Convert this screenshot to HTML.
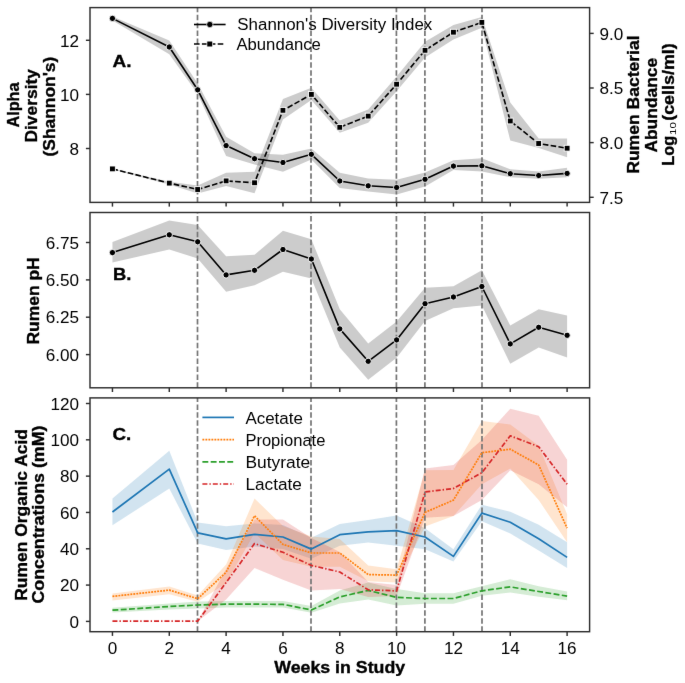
<!DOCTYPE html>
<html><head><meta charset="utf-8"><style>
html,body{margin:0;padding:0;background:#fff;width:685px;height:683px;overflow:hidden}
svg{display:block;font-family:"Liberation Sans",sans-serif}
</style></head><body>
<svg width="685" height="683" viewBox="0 0 685 683">
<defs><filter id="bl" x="0" y="0" width="685" height="683" filterUnits="userSpaceOnUse" color-interpolation-filters="sRGB"><feConvolveMatrix order="3" kernelMatrix="0.00276 0.04704 0.00276 0.04704 0.80077 0.04704 0.00276 0.04704 0.00276" edgeMode="duplicate"/></filter></defs>
<rect width="685" height="683" fill="#fff"/>
<g filter="url(#bl)">
<polygon points="112.45,16.6 169.28,40.6 197.7,83.6 226.11,136.8 254.53,153.2 282.95,154.7 311.36,148.5 339.78,172.7 368.19,178.4 396.61,179.8 425.03,172.5 453.44,160.2 481.86,158.2 510.27,169.3 538.69,171.4 567.11,167.8 567.11,177.2 538.69,178.7 510.27,177.2 481.86,171.4 453.44,169.9 425.03,186.5 396.61,194.4 368.19,191.5 339.78,188.1 311.36,159.4 282.95,171.7 254.53,164.5 226.11,155.9 197.7,94 169.28,54.2 112.45,20.6" fill="#000" fill-opacity="0.2"/><polygon points="112.45,168.4 169.28,181.8 197.7,185.6 226.11,172.7 254.53,171.7 282.95,98.9 311.36,87.7 339.78,120.5 368.19,109.6 396.61,76.6 425.03,41.8 453.44,24.9 481.86,17 510.27,102.5 538.69,138.5 567.11,138.5 567.11,157.3 538.69,147.9 510.27,140.6 481.86,27.8 453.44,39.5 425.03,57.6 396.61,91.2 368.19,122.8 339.78,132.7 311.36,100 282.95,119.4 254.53,193.2 226.11,186 197.7,193.6 169.28,184.4 112.45,169.4" fill="#000" fill-opacity="0.2"/><line x1="197.5" y1="202.4" x2="197.5" y2="7.6" stroke="#767676" stroke-width="1.7" stroke-dasharray="5.5 2.42"/><line x1="311.0" y1="202.4" x2="311.0" y2="7.6" stroke="#767676" stroke-width="1.7" stroke-dasharray="5.5 2.42"/><line x1="396.4" y1="202.4" x2="396.4" y2="7.6" stroke="#767676" stroke-width="1.7" stroke-dasharray="5.5 2.42"/><line x1="424.9" y1="202.4" x2="424.9" y2="7.6" stroke="#767676" stroke-width="1.7" stroke-dasharray="5.5 2.42"/><line x1="482.0" y1="202.4" x2="482.0" y2="7.6" stroke="#767676" stroke-width="1.7" stroke-dasharray="5.5 2.42"/><polyline points="112.45,18.4 169.28,47 197.7,89.8 226.11,145.6 254.53,158.7 282.95,162.5 311.36,154.3 339.78,181 368.19,185.8 396.61,187.5 425.03,179.3 453.44,166.1 481.86,165.8 510.27,173.7 538.69,175.5 567.11,173.4" fill="none" stroke="#000" stroke-width="1.6" stroke-linejoin="round" stroke-linecap="butt"/><circle cx="112.45" cy="18.4" r="3.15" fill="#000" stroke="#fff" stroke-width="0.9"/><circle cx="169.28" cy="47" r="3.15" fill="#000" stroke="#fff" stroke-width="0.9"/><circle cx="197.7" cy="89.8" r="3.15" fill="#000" stroke="#fff" stroke-width="0.9"/><circle cx="226.11" cy="145.6" r="3.15" fill="#000" stroke="#fff" stroke-width="0.9"/><circle cx="254.53" cy="158.7" r="3.15" fill="#000" stroke="#fff" stroke-width="0.9"/><circle cx="282.95" cy="162.5" r="3.15" fill="#000" stroke="#fff" stroke-width="0.9"/><circle cx="311.36" cy="154.3" r="3.15" fill="#000" stroke="#fff" stroke-width="0.9"/><circle cx="339.78" cy="181" r="3.15" fill="#000" stroke="#fff" stroke-width="0.9"/><circle cx="368.19" cy="185.8" r="3.15" fill="#000" stroke="#fff" stroke-width="0.9"/><circle cx="396.61" cy="187.5" r="3.15" fill="#000" stroke="#fff" stroke-width="0.9"/><circle cx="425.03" cy="179.3" r="3.15" fill="#000" stroke="#fff" stroke-width="0.9"/><circle cx="453.44" cy="166.1" r="3.15" fill="#000" stroke="#fff" stroke-width="0.9"/><circle cx="481.86" cy="165.8" r="3.15" fill="#000" stroke="#fff" stroke-width="0.9"/><circle cx="510.27" cy="173.7" r="3.15" fill="#000" stroke="#fff" stroke-width="0.9"/><circle cx="538.69" cy="175.5" r="3.15" fill="#000" stroke="#fff" stroke-width="0.9"/><circle cx="567.11" cy="173.4" r="3.15" fill="#000" stroke="#fff" stroke-width="0.9"/><polyline points="112.45,168.9 169.28,183.1 197.7,189.5 226.11,180.9 254.53,182.8 282.95,110.3 311.36,94.4 339.78,127.3 368.19,116.1 396.61,84.2 425.03,50.3 453.44,32.2 481.86,22.4 510.27,121 538.69,143.5 567.11,148.2" fill="none" stroke="#000" stroke-width="1.6" stroke-linejoin="round" stroke-linecap="butt" stroke-dasharray="5.6 2.3"/><rect x="109.55" y="166" width="5.8" height="5.8" fill="#000" stroke="#fff" stroke-width="0.9"/><rect x="166.38" y="180.2" width="5.8" height="5.8" fill="#000" stroke="#fff" stroke-width="0.9"/><rect x="194.8" y="186.6" width="5.8" height="5.8" fill="#000" stroke="#fff" stroke-width="0.9"/><rect x="223.21" y="178" width="5.8" height="5.8" fill="#000" stroke="#fff" stroke-width="0.9"/><rect x="251.63" y="179.9" width="5.8" height="5.8" fill="#000" stroke="#fff" stroke-width="0.9"/><rect x="280.05" y="107.4" width="5.8" height="5.8" fill="#000" stroke="#fff" stroke-width="0.9"/><rect x="308.46" y="91.5" width="5.8" height="5.8" fill="#000" stroke="#fff" stroke-width="0.9"/><rect x="336.88" y="124.4" width="5.8" height="5.8" fill="#000" stroke="#fff" stroke-width="0.9"/><rect x="365.29" y="113.2" width="5.8" height="5.8" fill="#000" stroke="#fff" stroke-width="0.9"/><rect x="393.71" y="81.3" width="5.8" height="5.8" fill="#000" stroke="#fff" stroke-width="0.9"/><rect x="422.13" y="47.4" width="5.8" height="5.8" fill="#000" stroke="#fff" stroke-width="0.9"/><rect x="450.54" y="29.3" width="5.8" height="5.8" fill="#000" stroke="#fff" stroke-width="0.9"/><rect x="478.96" y="19.5" width="5.8" height="5.8" fill="#000" stroke="#fff" stroke-width="0.9"/><rect x="507.37" y="118.1" width="5.8" height="5.8" fill="#000" stroke="#fff" stroke-width="0.9"/><rect x="535.79" y="140.6" width="5.8" height="5.8" fill="#000" stroke="#fff" stroke-width="0.9"/><rect x="564.21" y="145.3" width="5.8" height="5.8" fill="#000" stroke="#fff" stroke-width="0.9"/><rect x="90.0" y="7.6" width="499.6" height="194.8" fill="none" stroke="#2e2e2e" stroke-width="1.45"/><line x1="112.45" y1="202.4" x2="112.45" y2="206.6" stroke="#2e2e2e" stroke-width="1.45"/><line x1="169.28" y1="202.4" x2="169.28" y2="206.6" stroke="#2e2e2e" stroke-width="1.45"/><line x1="226.11" y1="202.4" x2="226.11" y2="206.6" stroke="#2e2e2e" stroke-width="1.45"/><line x1="282.95" y1="202.4" x2="282.95" y2="206.6" stroke="#2e2e2e" stroke-width="1.45"/><line x1="339.78" y1="202.4" x2="339.78" y2="206.6" stroke="#2e2e2e" stroke-width="1.45"/><line x1="396.61" y1="202.4" x2="396.61" y2="206.6" stroke="#2e2e2e" stroke-width="1.45"/><line x1="453.44" y1="202.4" x2="453.44" y2="206.6" stroke="#2e2e2e" stroke-width="1.45"/><line x1="510.27" y1="202.4" x2="510.27" y2="206.6" stroke="#2e2e2e" stroke-width="1.45"/><line x1="567.11" y1="202.4" x2="567.11" y2="206.6" stroke="#2e2e2e" stroke-width="1.45"/><line x1="85.9" y1="40.3" x2="90.0" y2="40.3" stroke="#2e2e2e" stroke-width="1.45"/><line x1="85.9" y1="94.4" x2="90.0" y2="94.4" stroke="#2e2e2e" stroke-width="1.45"/><line x1="85.9" y1="148.5" x2="90.0" y2="148.5" stroke="#2e2e2e" stroke-width="1.45"/><line x1="589.6" y1="33.4" x2="593.7" y2="33.4" stroke="#2e2e2e" stroke-width="1.45"/><line x1="589.6" y1="88" x2="593.7" y2="88" stroke="#2e2e2e" stroke-width="1.45"/><line x1="589.6" y1="142.6" x2="593.7" y2="142.6" stroke="#2e2e2e" stroke-width="1.45"/><line x1="589.6" y1="197.3" x2="593.7" y2="197.3" stroke="#2e2e2e" stroke-width="1.45"/><polygon points="112.45,242.1 169.28,220.5 197.7,224.9 226.11,256.2 254.53,254.7 282.95,230.8 311.36,239.3 339.78,309.2 368.19,343.6 396.61,321.5 425.03,287.8 453.44,286.2 481.86,270.3 510.27,325.5 538.69,309.2 567.11,315.4 567.11,357.4 538.69,347.5 510.27,363.8 481.86,305.6 453.44,308.3 425.03,320.9 396.61,357.7 368.19,379.7 339.78,347.5 311.36,278.6 282.95,271.8 254.53,285.3 226.11,291.8 197.7,258.6 169.28,249.4 112.45,262.5" fill="#000" fill-opacity="0.2"/><line x1="197.5" y1="387.8" x2="197.5" y2="212.5" stroke="#767676" stroke-width="1.7" stroke-dasharray="5.5 2.42"/><line x1="311.0" y1="387.8" x2="311.0" y2="212.5" stroke="#767676" stroke-width="1.7" stroke-dasharray="5.5 2.42"/><line x1="396.4" y1="387.8" x2="396.4" y2="212.5" stroke="#767676" stroke-width="1.7" stroke-dasharray="5.5 2.42"/><line x1="424.9" y1="387.8" x2="424.9" y2="212.5" stroke="#767676" stroke-width="1.7" stroke-dasharray="5.5 2.42"/><line x1="482.0" y1="387.8" x2="482.0" y2="212.5" stroke="#767676" stroke-width="1.7" stroke-dasharray="5.5 2.42"/><polyline points="112.45,252.6 169.28,234.8 197.7,241.8 226.11,274.9 254.53,270.3 282.95,249.5 311.36,259 339.78,328.9 368.19,361.3 396.61,339.9 425.03,303.7 453.44,297 481.86,286.5 510.27,343.9 538.69,327.3 567.11,335.3" fill="none" stroke="#000" stroke-width="1.6" stroke-linejoin="round" stroke-linecap="butt"/><circle cx="112.45" cy="252.6" r="3.15" fill="#000" stroke="#fff" stroke-width="0.9"/><circle cx="169.28" cy="234.8" r="3.15" fill="#000" stroke="#fff" stroke-width="0.9"/><circle cx="197.7" cy="241.8" r="3.15" fill="#000" stroke="#fff" stroke-width="0.9"/><circle cx="226.11" cy="274.9" r="3.15" fill="#000" stroke="#fff" stroke-width="0.9"/><circle cx="254.53" cy="270.3" r="3.15" fill="#000" stroke="#fff" stroke-width="0.9"/><circle cx="282.95" cy="249.5" r="3.15" fill="#000" stroke="#fff" stroke-width="0.9"/><circle cx="311.36" cy="259" r="3.15" fill="#000" stroke="#fff" stroke-width="0.9"/><circle cx="339.78" cy="328.9" r="3.15" fill="#000" stroke="#fff" stroke-width="0.9"/><circle cx="368.19" cy="361.3" r="3.15" fill="#000" stroke="#fff" stroke-width="0.9"/><circle cx="396.61" cy="339.9" r="3.15" fill="#000" stroke="#fff" stroke-width="0.9"/><circle cx="425.03" cy="303.7" r="3.15" fill="#000" stroke="#fff" stroke-width="0.9"/><circle cx="453.44" cy="297" r="3.15" fill="#000" stroke="#fff" stroke-width="0.9"/><circle cx="481.86" cy="286.5" r="3.15" fill="#000" stroke="#fff" stroke-width="0.9"/><circle cx="510.27" cy="343.9" r="3.15" fill="#000" stroke="#fff" stroke-width="0.9"/><circle cx="538.69" cy="327.3" r="3.15" fill="#000" stroke="#fff" stroke-width="0.9"/><circle cx="567.11" cy="335.3" r="3.15" fill="#000" stroke="#fff" stroke-width="0.9"/><rect x="90.0" y="212.5" width="499.6" height="175.3" fill="none" stroke="#2e2e2e" stroke-width="1.45"/><line x1="112.45" y1="387.8" x2="112.45" y2="392" stroke="#2e2e2e" stroke-width="1.45"/><line x1="169.28" y1="387.8" x2="169.28" y2="392" stroke="#2e2e2e" stroke-width="1.45"/><line x1="226.11" y1="387.8" x2="226.11" y2="392" stroke="#2e2e2e" stroke-width="1.45"/><line x1="282.95" y1="387.8" x2="282.95" y2="392" stroke="#2e2e2e" stroke-width="1.45"/><line x1="339.78" y1="387.8" x2="339.78" y2="392" stroke="#2e2e2e" stroke-width="1.45"/><line x1="396.61" y1="387.8" x2="396.61" y2="392" stroke="#2e2e2e" stroke-width="1.45"/><line x1="453.44" y1="387.8" x2="453.44" y2="392" stroke="#2e2e2e" stroke-width="1.45"/><line x1="510.27" y1="387.8" x2="510.27" y2="392" stroke="#2e2e2e" stroke-width="1.45"/><line x1="567.11" y1="387.8" x2="567.11" y2="392" stroke="#2e2e2e" stroke-width="1.45"/><line x1="85.9" y1="242.5" x2="90.0" y2="242.5" stroke="#2e2e2e" stroke-width="1.45"/><line x1="85.9" y1="279.9" x2="90.0" y2="279.9" stroke="#2e2e2e" stroke-width="1.45"/><line x1="85.9" y1="317.2" x2="90.0" y2="317.2" stroke="#2e2e2e" stroke-width="1.45"/><line x1="85.9" y1="354.6" x2="90.0" y2="354.6" stroke="#2e2e2e" stroke-width="1.45"/><polygon points="112.45,498.4 169.28,450.8 197.7,522.6 226.11,526.3 254.53,523.5 282.95,525 311.36,537.8 339.78,523.9 368.19,520 396.61,515.5 425.03,528.2 453.44,549.3 481.86,504.7 510.27,511.7 538.69,524.7 567.11,542.3 567.11,568 538.69,550.4 510.27,533.5 481.86,521.2 453.44,561.6 425.03,549.3 396.61,545.7 368.19,542.5 339.78,545.7 311.36,558.8 282.95,549 254.53,546.5 226.11,549.9 197.7,543.6 169.28,488.5 112.45,525.3" fill="#1f77b4" fill-opacity="0.2"/><polygon points="112.45,593.6 169.28,586.6 197.7,595.4 226.11,564.6 254.53,498.6 282.95,526 311.36,536.5 339.78,539 368.19,565.4 396.61,569.3 425.03,470.3 453.44,470 481.86,421 510.27,424.6 538.69,445.7 567.11,514.2 567.11,542.3 538.69,500.1 510.27,468.5 481.86,484.3 453.44,516 425.03,526.5 396.61,582.5 368.19,581.2 339.78,566.7 311.36,566.7 282.95,560 254.53,533 226.11,583.3 197.7,601.8 169.28,594.3 112.45,600.6" fill="#ff7f0e" fill-opacity="0.2"/><polygon points="112.45,607.7 169.28,603.5 197.7,601.5 226.11,600.9 254.53,600.9 282.95,600.9 311.36,606 339.78,590.4 368.19,582.5 396.61,589 425.03,593.3 453.44,593.3 481.86,586.2 510.27,579.2 538.69,586.2 567.11,591.5 567.11,600.3 538.69,596.8 510.27,592.6 481.86,595.7 453.44,603.8 425.03,603.8 396.61,605.6 368.19,599.5 339.78,603.5 311.36,612.7 282.95,607.4 254.53,607.4 226.11,607.4 197.7,608.5 169.28,609.5 112.45,612.6" fill="#2ca02c" fill-opacity="0.2"/><polygon points="112.45,621.2 169.28,621.2 197.7,621.2 226.11,569 254.53,519.6 282.95,519.4 311.36,538 339.78,552 368.19,582 396.61,585 425.03,468.5 453.44,465 481.86,440 510.27,408.8 538.69,415.8 567.11,459.7 567.11,507.2 538.69,484.3 510.27,470.3 481.86,500 453.44,516 425.03,517.7 396.61,596 368.19,597 339.78,589 311.36,590.4 282.95,579.8 254.53,567.9 226.11,599.5 197.7,621.2 169.28,621.2 112.45,621.2" fill="#d62728" fill-opacity="0.2"/><line x1="197.5" y1="631.7" x2="197.5" y2="397.9" stroke="#767676" stroke-width="1.7" stroke-dasharray="5.5 2.42"/><line x1="311.0" y1="631.7" x2="311.0" y2="397.9" stroke="#767676" stroke-width="1.7" stroke-dasharray="5.5 2.42"/><line x1="396.4" y1="631.7" x2="396.4" y2="397.9" stroke="#767676" stroke-width="1.7" stroke-dasharray="5.5 2.42"/><line x1="424.9" y1="631.7" x2="424.9" y2="397.9" stroke="#767676" stroke-width="1.7" stroke-dasharray="5.5 2.42"/><line x1="482.0" y1="631.7" x2="482.0" y2="397.9" stroke="#767676" stroke-width="1.7" stroke-dasharray="5.5 2.42"/><polyline points="112.45,512 169.28,469.1 197.7,532.8 226.11,538.8 254.53,534.4 282.95,537 311.36,549.1 339.78,534.7 368.19,531.8 396.61,530.7 425.03,537 453.44,556.4 481.86,513.1 510.27,522.3 538.69,538.8 567.11,557.4" fill="none" stroke="#1f77b4" stroke-width="1.7" stroke-linejoin="round" stroke-linecap="butt"/><polyline points="112.45,596.4 169.28,590.1 197.7,598.7 226.11,572.3 254.53,515.8 282.95,544.4 311.36,553 339.78,553 368.19,574.6 396.61,575.1 425.03,512.4 453.44,500.1 481.86,452.7 510.27,449.2 538.69,465 567.11,528.2" fill="none" stroke="#ff7f0e" stroke-width="1.7" stroke-linejoin="round" stroke-linecap="butt" stroke-dasharray="1.9 1.1"/><polyline points="112.45,610.2 169.28,606.5 197.7,605 226.11,604.2 254.53,604.2 282.95,604.3 311.36,610 339.78,596.9 368.19,590.4 396.61,597.4 425.03,598.5 453.44,598.5 481.86,590.8 510.27,586.9 538.69,591.5 567.11,596.1" fill="none" stroke="#2ca02c" stroke-width="1.7" stroke-linejoin="round" stroke-linecap="butt" stroke-dasharray="5.9 2.4"/><polyline points="112.45,621.2 169.28,621.2 197.7,621.2 226.11,582.5 254.53,543.6 282.95,552.3 311.36,565.4 339.78,572 368.19,589.8 396.61,590.9 425.03,492 453.44,488.5 481.86,472.7 510.27,435.8 538.69,446.7 567.11,484.3" fill="none" stroke="#d62728" stroke-width="1.7" stroke-linejoin="round" stroke-linecap="butt" stroke-dasharray="5.0 2.0 1.4 2.0"/><rect x="90.0" y="397.9" width="499.6" height="233.8" fill="none" stroke="#2e2e2e" stroke-width="1.45"/><line x1="112.45" y1="631.7" x2="112.45" y2="635.9" stroke="#2e2e2e" stroke-width="1.45"/><line x1="169.28" y1="631.7" x2="169.28" y2="635.9" stroke="#2e2e2e" stroke-width="1.45"/><line x1="226.11" y1="631.7" x2="226.11" y2="635.9" stroke="#2e2e2e" stroke-width="1.45"/><line x1="282.95" y1="631.7" x2="282.95" y2="635.9" stroke="#2e2e2e" stroke-width="1.45"/><line x1="339.78" y1="631.7" x2="339.78" y2="635.9" stroke="#2e2e2e" stroke-width="1.45"/><line x1="396.61" y1="631.7" x2="396.61" y2="635.9" stroke="#2e2e2e" stroke-width="1.45"/><line x1="453.44" y1="631.7" x2="453.44" y2="635.9" stroke="#2e2e2e" stroke-width="1.45"/><line x1="510.27" y1="631.7" x2="510.27" y2="635.9" stroke="#2e2e2e" stroke-width="1.45"/><line x1="567.11" y1="631.7" x2="567.11" y2="635.9" stroke="#2e2e2e" stroke-width="1.45"/><line x1="85.9" y1="621.4" x2="90.0" y2="621.4" stroke="#2e2e2e" stroke-width="1.45"/><line x1="85.9" y1="585.08" x2="90.0" y2="585.08" stroke="#2e2e2e" stroke-width="1.45"/><line x1="85.9" y1="548.77" x2="90.0" y2="548.77" stroke="#2e2e2e" stroke-width="1.45"/><line x1="85.9" y1="512.45" x2="90.0" y2="512.45" stroke="#2e2e2e" stroke-width="1.45"/><line x1="85.9" y1="476.14" x2="90.0" y2="476.14" stroke="#2e2e2e" stroke-width="1.45"/><line x1="85.9" y1="439.82" x2="90.0" y2="439.82" stroke="#2e2e2e" stroke-width="1.45"/><line x1="85.9" y1="403.5" x2="90.0" y2="403.5" stroke="#2e2e2e" stroke-width="1.45"/>
<line x1="194" y1="24.5" x2="225.6" y2="24.5" stroke="#000" stroke-width="1.6"/><circle cx="209.8" cy="24.5" r="3.15" fill="#000" stroke="#fff" stroke-width="0.7"/><line x1="194" y1="44.0" x2="225.6" y2="44.0" stroke="#000" stroke-width="1.6" stroke-dasharray="5.6 2.3"/><rect x="206.9" y="41.1" width="5.8" height="5.8" fill="#000" stroke="#fff" stroke-width="0.7"/><line x1="202.4" y1="417.4" x2="234" y2="417.4" stroke="#1f77b4" stroke-width="1.7"/><line x1="202.4" y1="439.6" x2="234" y2="439.6" stroke="#ff7f0e" stroke-width="1.7" stroke-dasharray="1.9 1.1"/><line x1="202.4" y1="461.8" x2="234" y2="461.8" stroke="#2ca02c" stroke-width="1.7" stroke-dasharray="5.9 2.4"/><line x1="202.4" y1="484" x2="234" y2="484" stroke="#d62728" stroke-width="1.7" stroke-dasharray="5.0 2.0 1.4 2.0"/>
<g fill="#000" font-family="Liberation Sans, sans-serif" style="filter:grayscale(1)"><text x="79" y="46.5" text-anchor="end" font-size="16.3" font-weight="normal" textLength="19.04" lengthAdjust="spacingAndGlyphs">12</text><text x="79" y="100.6" text-anchor="end" font-size="16.3" font-weight="normal" textLength="19.04" lengthAdjust="spacingAndGlyphs">10</text><text x="79" y="154.7" text-anchor="end" font-size="16.3" font-weight="normal" textLength="9.52" lengthAdjust="spacingAndGlyphs">8</text><text x="599.4" y="39.6" text-anchor="start" font-size="16.3" font-weight="normal" textLength="23.79" lengthAdjust="spacingAndGlyphs">9.0</text><text x="599.4" y="94.2" text-anchor="start" font-size="16.3" font-weight="normal" textLength="23.79" lengthAdjust="spacingAndGlyphs">8.5</text><text x="599.4" y="148.8" text-anchor="start" font-size="16.3" font-weight="normal" textLength="23.79" lengthAdjust="spacingAndGlyphs">8.0</text><text x="599.4" y="203.5" text-anchor="start" font-size="16.3" font-weight="normal" textLength="23.79" lengthAdjust="spacingAndGlyphs">7.5</text><text x="79" y="248.7" text-anchor="end" font-size="16.3" font-weight="normal" textLength="33.31" lengthAdjust="spacingAndGlyphs">6.75</text><text x="79" y="286.1" text-anchor="end" font-size="16.3" font-weight="normal" textLength="33.31" lengthAdjust="spacingAndGlyphs">6.50</text><text x="79" y="323.4" text-anchor="end" font-size="16.3" font-weight="normal" textLength="33.31" lengthAdjust="spacingAndGlyphs">6.25</text><text x="79" y="360.8" text-anchor="end" font-size="16.3" font-weight="normal" textLength="33.31" lengthAdjust="spacingAndGlyphs">6.00</text><text x="79" y="627.6" text-anchor="end" font-size="16.3" font-weight="normal" textLength="9.52" lengthAdjust="spacingAndGlyphs">0</text><text x="79" y="591.28" text-anchor="end" font-size="16.3" font-weight="normal" textLength="19.04" lengthAdjust="spacingAndGlyphs">20</text><text x="79" y="554.97" text-anchor="end" font-size="16.3" font-weight="normal" textLength="19.04" lengthAdjust="spacingAndGlyphs">40</text><text x="79" y="518.65" text-anchor="end" font-size="16.3" font-weight="normal" textLength="19.04" lengthAdjust="spacingAndGlyphs">60</text><text x="79" y="482.34" text-anchor="end" font-size="16.3" font-weight="normal" textLength="19.04" lengthAdjust="spacingAndGlyphs">80</text><text x="79" y="446.02" text-anchor="end" font-size="16.3" font-weight="normal" textLength="28.55" lengthAdjust="spacingAndGlyphs">100</text><text x="79" y="409.7" text-anchor="end" font-size="16.3" font-weight="normal" textLength="28.55" lengthAdjust="spacingAndGlyphs">120</text><text x="112.45" y="653.5" text-anchor="middle" font-size="16.3" font-weight="normal" textLength="9.52" lengthAdjust="spacingAndGlyphs">0</text><text x="169.28" y="653.5" text-anchor="middle" font-size="16.3" font-weight="normal" textLength="9.52" lengthAdjust="spacingAndGlyphs">2</text><text x="226.11" y="653.5" text-anchor="middle" font-size="16.3" font-weight="normal" textLength="9.52" lengthAdjust="spacingAndGlyphs">4</text><text x="282.95" y="653.5" text-anchor="middle" font-size="16.3" font-weight="normal" textLength="9.52" lengthAdjust="spacingAndGlyphs">6</text><text x="339.78" y="653.5" text-anchor="middle" font-size="16.3" font-weight="normal" textLength="9.52" lengthAdjust="spacingAndGlyphs">8</text><text x="396.61" y="653.5" text-anchor="middle" font-size="16.3" font-weight="normal" textLength="19.04" lengthAdjust="spacingAndGlyphs">10</text><text x="453.44" y="653.5" text-anchor="middle" font-size="16.3" font-weight="normal" textLength="19.04" lengthAdjust="spacingAndGlyphs">12</text><text x="510.27" y="653.5" text-anchor="middle" font-size="16.3" font-weight="normal" textLength="19.04" lengthAdjust="spacingAndGlyphs">14</text><text x="567.11" y="653.5" text-anchor="middle" font-size="16.3" font-weight="normal" textLength="19.04" lengthAdjust="spacingAndGlyphs">16</text><text x="112.6" y="67.3" text-anchor="start" font-size="17.2" font-weight="bold" textLength="19" lengthAdjust="spacingAndGlyphs" stroke="#000" stroke-width="0.35">A.</text><text x="112.9" y="280.1" text-anchor="start" font-size="17.4" font-weight="bold" textLength="18.4" lengthAdjust="spacingAndGlyphs" stroke="#000" stroke-width="0.35">B.</text><text x="112.4" y="440" text-anchor="start" font-size="17.4" font-weight="bold" textLength="18.8" lengthAdjust="spacingAndGlyphs" stroke="#000" stroke-width="0.35">C.</text><text x="237.3" y="30.3" text-anchor="start" font-size="15.8" font-weight="normal" textLength="195" lengthAdjust="spacingAndGlyphs">Shannon's Diversity Index</text><text x="236.4" y="49.7" text-anchor="start" font-size="15.8" font-weight="normal" textLength="84.5" lengthAdjust="spacingAndGlyphs">Abundance</text><text x="245.4" y="423.6" text-anchor="start" font-size="16.3" font-weight="normal" textLength="57.5" lengthAdjust="spacingAndGlyphs">Acetate</text><text x="245.4" y="445.8" text-anchor="start" font-size="16.3" font-weight="normal" textLength="80" lengthAdjust="spacingAndGlyphs">Propionate</text><text x="245.4" y="468" text-anchor="start" font-size="16.3" font-weight="normal" textLength="64.8" lengthAdjust="spacingAndGlyphs">Butyrate</text><text x="245.4" y="490.2" text-anchor="start" font-size="16.3" font-weight="normal" textLength="56.5" lengthAdjust="spacingAndGlyphs">Lactate</text><text x="339.7" y="672.6" text-anchor="middle" font-size="16.3" font-weight="bold" textLength="131" lengthAdjust="spacingAndGlyphs" stroke="#000" stroke-width="0.35">Weeks in Study</text><text transform="translate(18.9,105) rotate(-90)" text-anchor="middle" font-size="16.3" font-weight="bold" stroke="#000" stroke-width="0.35">Alpha</text><text transform="translate(37.3,105.8) rotate(-90)" text-anchor="middle" font-size="16.3" font-weight="bold" textLength="73.5" lengthAdjust="spacingAndGlyphs" stroke="#000" stroke-width="0.35">Diversity</text><text transform="translate(54.9,106.6) rotate(-90)" text-anchor="middle" font-size="16.3" font-weight="bold" textLength="99.8" lengthAdjust="spacingAndGlyphs" stroke="#000" stroke-width="0.35">(Shannon's)</text><text transform="translate(39,300.9) rotate(-90)" text-anchor="middle" font-size="16.3" font-weight="bold" textLength="87.2" lengthAdjust="spacingAndGlyphs" stroke="#000" stroke-width="0.35">Rumen pH</text><text transform="translate(639.4,104.6) rotate(-90)" text-anchor="middle" font-size="16.3" font-weight="bold" textLength="138.3" lengthAdjust="spacingAndGlyphs" stroke="#000" stroke-width="0.35">Rumen Bacterial</text><text transform="translate(657.3,105.2) rotate(-90)" text-anchor="middle" font-size="16.3" font-weight="bold" textLength="94.8" lengthAdjust="spacingAndGlyphs" stroke="#000" stroke-width="0.35">Abundance</text><g transform="translate(673.9,166) rotate(-90)"><text x="0.3" y="0" font-size="16.3" font-weight="bold" stroke="#000" stroke-width="0.35" textLength="30" lengthAdjust="spacingAndGlyphs">Log</text><text x="31.0" y="2.0" font-size="9.9" textLength="12.8" lengthAdjust="spacingAndGlyphs">10</text><text x="45.2" y="0" font-size="16.3" font-weight="bold" stroke="#000" stroke-width="0.35" textLength="77.6" lengthAdjust="spacingAndGlyphs">(cells/ml)</text></g><text transform="translate(26.6,514.9) rotate(-90)" text-anchor="middle" font-size="16.3" font-weight="bold" textLength="171.7" lengthAdjust="spacingAndGlyphs" stroke="#000" stroke-width="0.35">Rumen Organic Acid</text><text transform="translate(43.8,514.6) rotate(-90)" text-anchor="middle" font-size="16.3" font-weight="bold" textLength="178" lengthAdjust="spacingAndGlyphs" stroke="#000" stroke-width="0.35">Concentrations (mM)</text></g>
</g>
</svg>
</body></html>
